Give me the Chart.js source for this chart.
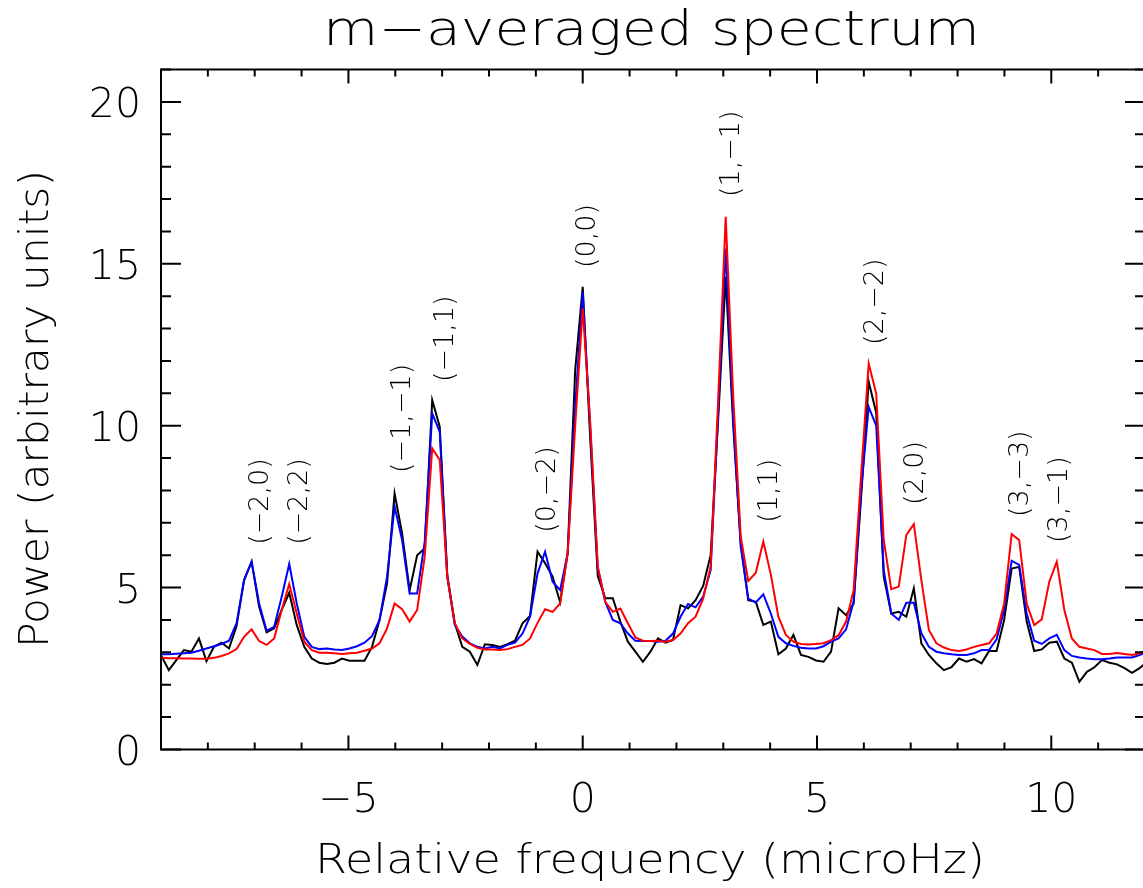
<!DOCTYPE html>
<html>
<head>
<meta charset="utf-8">
<script src="https://cdn.jsdelivr.net/npm/chart.js@4.4.0/dist/chart.umd.min.js"></script>
<style>
  html, body { margin: 0; padding: 0; background: #fff; overflow: hidden; }
  canvas { display: block; }
</style>
</head>
<body>
<canvas id="spectrumChart" width="1146" height="888"></canvas>
<script>
// frequency bins: first bin and bin width (microHz)
const F_START = -56 * 0.1606;
const F_STEP = 0.1606;

const blackPower = [
  2.90, 2.45, 2.76, 3.07, 3.02, 3.43, 2.73, 3.17, 3.30, 3.12,
  3.81, 5.23, 5.80, 4.41, 3.62, 3.74, 4.31, 4.84, 3.84, 3.17,
  2.81, 2.68, 2.64, 2.68, 2.81, 2.74, 2.74, 2.74, 3.17, 4.00,
  5.13, 7.91, 6.67, 4.92, 6.00, 6.21, 10.79, 9.97, 5.39, 3.90,
  3.17, 3.02, 2.61, 3.25, 3.23, 3.17, 3.25, 3.36, 3.90, 4.12,
  6.11, 5.75, 5.34, 4.55, 6.06, 11.72, 14.29, 9.60, 5.36, 4.67,
  4.67, 3.95, 3.33, 3.02, 2.71, 3.02, 3.43, 3.30, 3.38, 4.46,
  4.36, 4.61, 5.05, 6.00, 10.20, 14.60, 10.00, 6.37, 4.61, 4.56,
  3.85, 3.95, 2.94, 3.12, 3.54, 2.92, 2.86, 2.75, 2.71, 3.02,
  4.36, 4.15, 4.50, 7.80, 11.36, 10.40, 5.34, 4.20, 4.25, 4.10,
  4.98, 3.28, 2.92, 2.66, 2.45, 2.54, 2.81, 2.71, 2.79, 2.66,
  3.04, 3.04, 4.00, 5.59, 5.64, 3.95, 3.04, 3.09, 3.30, 3.33,
  2.81, 2.68, 2.09, 2.40, 2.54, 2.76, 2.68, 2.63, 2.51, 2.37,
  2.51, 2.71
];

const bluePower = [
  2.94, 2.94, 2.96, 2.97, 2.99, 3.05, 3.12, 3.19, 3.26, 3.36,
  3.90, 5.23, 5.80, 4.51, 3.67, 3.79, 4.72, 5.73, 4.51, 3.48,
  3.17, 3.10, 3.12, 3.09, 3.07, 3.12, 3.19, 3.30, 3.50, 4.00,
  5.34, 7.50, 6.47, 4.82, 4.82, 6.40, 10.38, 9.81, 5.34, 3.84,
  3.49, 3.28, 3.17, 3.12, 3.17, 3.12, 3.23, 3.30, 3.58, 4.10,
  5.44, 6.11, 5.18, 4.92, 6.06, 10.60, 14.13, 9.90, 5.60, 4.56,
  4.00, 3.90, 3.58, 3.36, 3.35, 3.35, 3.33, 3.36, 3.58, 4.10,
  4.49, 4.39, 4.72, 5.54, 10.40, 15.47, 10.20, 6.26, 4.66, 4.54,
  4.79, 4.20, 3.48, 3.28, 3.20, 3.14, 3.12, 3.12, 3.19, 3.33,
  3.43, 3.71, 4.56, 8.00, 10.58, 10.00, 5.54, 4.20, 4.00, 4.53,
  4.53, 3.59, 3.17, 3.02, 2.97, 2.94, 2.92, 2.92, 2.97, 3.07,
  3.07, 3.40, 4.31, 5.83, 5.70, 4.20, 3.36, 3.26, 3.43, 3.54,
  3.07, 2.89, 2.84, 2.81, 2.79, 2.79, 2.81, 2.84, 2.84, 2.84,
  2.92, 3.02
];

const redPower = [
  2.83, 2.82, 2.82, 2.81, 2.81, 2.80, 2.80, 2.83, 2.89, 2.97,
  3.10, 3.48, 3.71, 3.35, 3.23, 3.43, 4.31, 5.11, 4.20, 3.33,
  3.07, 2.99, 2.99, 2.97, 2.95, 2.97, 2.99, 3.05, 3.12, 3.28,
  3.74, 4.51, 4.33, 3.95, 4.31, 5.95, 9.30, 8.94, 5.34, 3.90,
  3.43, 3.26, 3.14, 3.09, 3.09, 3.07, 3.10, 3.17, 3.23, 3.43,
  3.91, 4.33, 4.25, 4.51, 6.06, 10.00, 13.62, 10.10, 5.65, 4.56,
  4.25, 4.35, 3.90, 3.46, 3.36, 3.35, 3.36, 3.33, 3.38, 3.58,
  3.90, 4.10, 4.66, 5.64, 10.80, 16.45, 10.90, 6.57, 5.20, 5.46,
  6.42, 5.40, 4.10, 3.54, 3.33, 3.26, 3.24, 3.26, 3.28, 3.38,
  3.53, 3.95, 4.92, 8.50, 11.92, 11.00, 6.47, 4.95, 5.03, 6.62,
  6.96, 5.23, 3.69, 3.28, 3.15, 3.07, 3.04, 3.09, 3.17, 3.23,
  3.28, 3.58, 4.51, 6.65, 6.47, 4.51, 3.84, 4.02, 5.18, 5.80,
  4.31, 3.43, 3.17, 3.12, 3.07, 2.95, 2.95, 2.98, 2.95, 2.92,
  2.97, 3.07
];

// mode labels (rotated), their frequency and the power where the text starts
const peakLabels = ["(−2,0)", "(−2,2)", "(−1,−1)", "(−1,1)", "(0,−2)", "(0,0)",
                    "(1,−1)", "(1,1)", "(2,−2)", "(2,0)", "(3,−3)", "(3,−1)"];
const labelFreq  = [-6.94, -6.09, -3.91, -2.98, -0.80, 0.05, 3.12, 3.93, 6.20, 7.05, 9.29, 10.13];
const labelPower = [6.32, 6.32, 8.54, 11.35, 6.69, 14.87, 17.06, 7.00, 12.49, 7.55, 7.18, 6.38];

const xTickLabels = [-5, 0, 5, 10];
const yTickLabels = [0, 5, 10, 15, 20];

const FONT = '"DejaVu Sans", sans-serif';
const WEIGHT = "200";

function toPoints(values) {
    return values.map((v, i) => ({ x: F_START + i * F_STEP, y: v }));
}

function fmt(v) {
    return v < 0 ? "−" + Math.abs(v) : String(v);
}

// draws text centred on (cx, cy), stretched along its direction to a given width
function drawFitted(ctx, text, cx, cy, width, font, rotate) {
    ctx.save();
    ctx.font = font;
    const w = ctx.measureText(text).width;
    ctx.translate(cx, cy);
    if (rotate) ctx.rotate(-Math.PI / 2);
    ctx.scale(width / w, 1);
    ctx.textAlign = "center";
    ctx.textBaseline = "alphabetic";
    ctx.fillText(text, 0, 0);
    ctx.restore();
}

const frameAndText = {
    id: "frameAndText",
    afterDatasetsDraw(chart) {
        const { ctx, chartArea: a, scales: { x, y } } = chart;
        ctx.save();
        ctx.fillStyle = "#000";
        ctx.strokeStyle = "#000";

        // peak labels
        ctx.font = WEIGHT + " 27px " + FONT;
        ctx.textAlign = "left";
        ctx.textBaseline = "alphabetic";
        peakLabels.forEach((t, i) => {
            ctx.save();
            ctx.translate(x.getPixelForValue(labelFreq[i]) + 10, y.getPixelForValue(labelPower[i]));
            ctx.rotate(-Math.PI / 2);
            ctx.fillText(t, 0, 0);
            ctx.restore();
        });

        // frame
        ctx.lineWidth = 2;
        ctx.strokeRect(a.left, a.top, a.right - a.left, a.bottom - a.top);

        // ticks pointing inward
        ctx.beginPath();
        for (let v = Math.ceil(x.min); v <= x.max; v++) {
            const px = x.getPixelForValue(v);
            const len = v % 5 === 0 ? 14 : 7;
            ctx.moveTo(px, a.bottom); ctx.lineTo(px, a.bottom - len);
            ctx.moveTo(px, a.top); ctx.lineTo(px, a.top + len);
        }
        for (let v = Math.ceil(y.min); v <= y.max; v++) {
            const py = y.getPixelForValue(v);
            const len = v % 5 === 0 ? 20 : 10;
            ctx.moveTo(a.left, py); ctx.lineTo(a.left + len, py);
            ctx.moveTo(a.right, py); ctx.lineTo(a.right - len, py);
        }
        ctx.stroke();

        // tick labels
        ctx.font = WEIGHT + " 41px " + FONT;
        ctx.textAlign = "center";
        xTickLabels.forEach(v => ctx.fillText(fmt(v), x.getPixelForValue(v), 812));
        ctx.textAlign = "right";
        yTickLabels.forEach(v => ctx.fillText(fmt(v), 141, y.getPixelForValue(v) + 15));

        // titles
        drawFitted(ctx, "m−averaged spectrum", 651.5, 45, 657, WEIGHT + " 48px " + FONT, false);
        drawFitted(ctx, "Relative frequency (microHz)", 650, 873, 670, WEIGHT + " 41px " + FONT, false);
        drawFitted(ctx, "Power (arbitrary units)", 48, 409, 478, WEIGHT + " 41px " + FONT, true);
        ctx.restore();
    }
};

const line = (values, color) => ({
    data: toPoints(values),
    borderColor: color,
    borderWidth: 2,
    pointRadius: 0,
    tension: 0,
    fill: false
});

new Chart(document.getElementById("spectrumChart"), {
    type: "line",
    data: {
        datasets: [
            line(redPower, "#ff0000"),
            line(bluePower, "#0000ff"),
            line(blackPower, "#000000")
        ]
    },
    options: {
        responsive: false,
        animation: false,
        layout: { padding: { top: 69.5, right: 1, left: 0, bottom: 0 } },
        plugins: {
            legend: { display: false },
            tooltip: { enabled: false },
            title: { display: false }
        },
        scales: {
            x: {
                type: "linear", min: -9, max: 12,
                grid: { display: false }, border: { display: false },
                ticks: { display: false },
                afterFit: s => { s.height = 138.5; }
            },
            y: {
                min: 0, max: 21,
                grid: { display: false }, border: { display: false },
                ticks: { display: false },
                afterFit: s => { s.width = 161; }
            }
        }
    },
    plugins: [frameAndText]
});
</script>
</body>
</html>
